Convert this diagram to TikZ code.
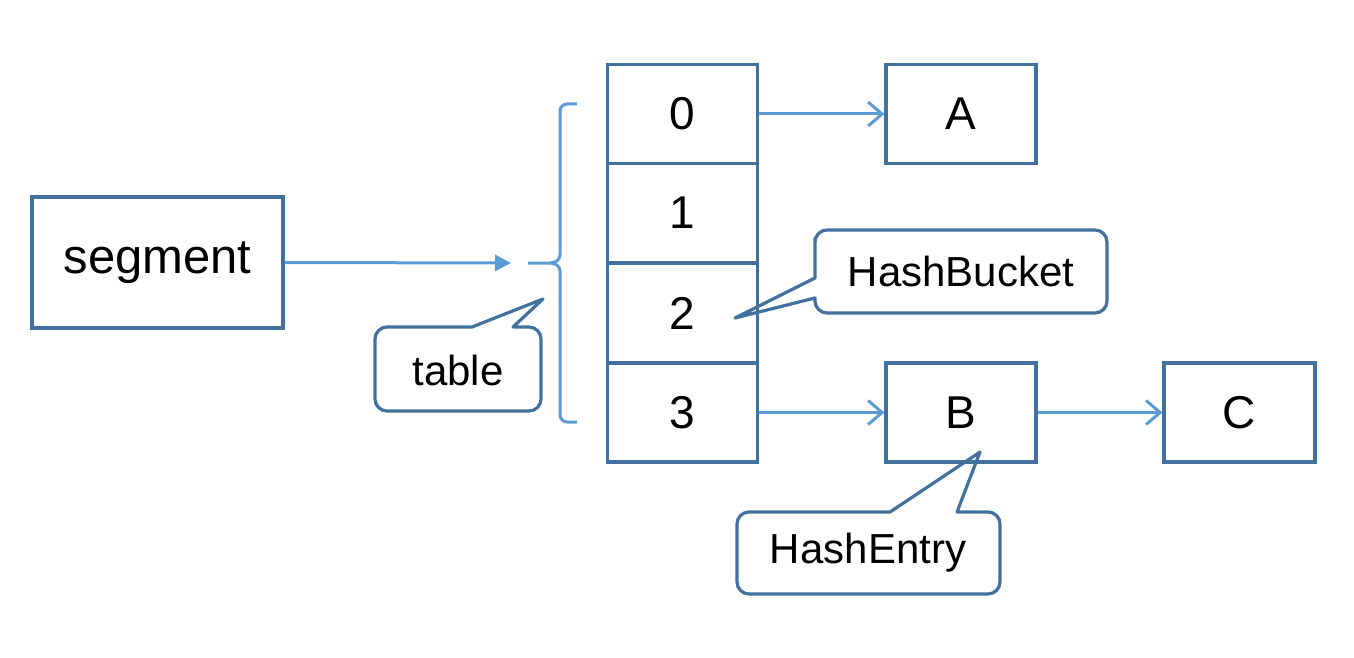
\documentclass[tikz,border=0pt]{standalone}
\usepackage{fontspec}
\setmainfont{Liberation Sans}
\usetikzlibrary{arrows.meta}
\definecolor{boxc}{HTML}{41719C}
\definecolor{arrc}{HTML}{5B9BD5}
\begin{document}
\begin{tikzpicture}[x=0.5pt,y=-0.5pt,
  box/.style={draw=boxc,line width=1.6pt,minimum width=75pt,minimum height=49.5pt,inner sep=0pt,font=\fontsize{23}{27}\selectfont},
  link/.style={draw=arrc,line width=1.5pt,-{Straight Barb[length=7pt,width=12pt,line width=1.5pt]}},
  callout/.style={draw=boxc,line width=1.6pt,line join=round},
  ctext/.style={font=\fontsize{21}{25}\selectfont,inner sep=0pt}]
\useasboundingbox (0,0) rectangle (1354,658);
% segment
\node[box,minimum width=125.5pt,minimum height=65.5pt,font=\fontsize{24.5}{28}\selectfont] (seg) at (157.5,262.5) {segment};
% table cells
\node[box] (t0) at (682.5,114) {0};
\node[box] (t1) at (682.5,213) {1};
\node[box] (t2) at (682.5,313) {2};
\node[box] (t3) at (682.5,412.5) {3};
% entries
\node[box] (A) at (961,114) {A};
\node[box] (B) at (961,412.5) {B};
\node[box,minimum width=75.5pt] (C) at (1239.5,412.5) {C};
% brace
\coordinate (bt) at (528,263);
\draw[arrc,line width=1.5pt,line join=round]
  (577,104) -- (567,104) to[out=180,in=90] (560,111) -- (560,255)
  to[out=-90,in=0] (550,263) -- (bt);
\draw[arrc,line width=1.5pt,line join=round]
  (550,263) to[out=0,in=90] (560,271) -- (560,415)
  to[out=-90,in=180] (567,422) -- (577,422);
% segment arrow
\coordinate (segend) at (511,263);
\draw[arrc,line width=1.5pt,-{Triangle[length=8pt,width=8pt]}] (seg.east) -- (segend);
% links
\draw[link] (t0.east) -- (A.west);
\draw[link] (t3.east) -- (B.west);
\draw[link] (B.east) -- (C.west);
% table callout
\draw[callout] (472,327) -- (543,299) -- (513,327) [rounded corners=6pt] -- (541,327) -- (541,411) -- (375,411) -- (375,327) -- (440,327) [sharp corners] -- cycle;
\node[ctext] (tabl) at (458,370) {table};
% HashBucket callout
\draw[callout] (815,278) -- (735,318) -- (815,298) [rounded corners=6pt] -- (815,313) -- (1107,313) -- (1107,230) -- (815,230) -- (815,250) [sharp corners] -- cycle;
\node[ctext] (hb) at (961,271) {HashBucket};
% HashEntry callout
\draw[callout] (890,512) -- (980,452) -- (957,512) [rounded corners=6pt] -- (1000,512) -- (1000,594) -- (737,594) -- (737,512) -- (850,512) [sharp corners] -- cycle;
\node[ctext] (he) at (868,553) {HashEntry};
\end{tikzpicture}
\end{document}
